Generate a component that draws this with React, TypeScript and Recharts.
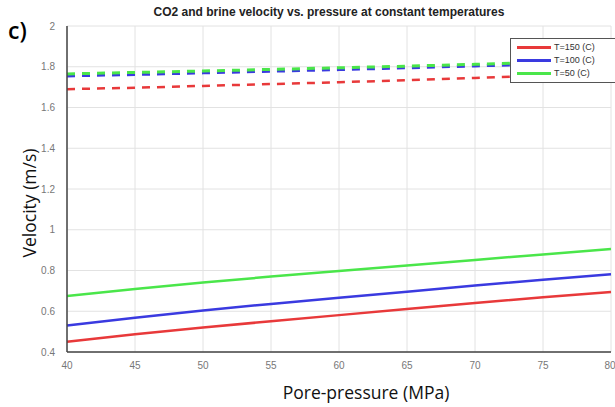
import React from 'react';
import { LineChart, Line, XAxis, YAxis, CartesianGrid } from 'recharts';

const pressure = [40, 45, 50, 55, 60, 65, 70, 75, 80];

// brine (solid)
const brine150 = [0.45, 0.487, 0.52, 0.551, 0.581, 0.611, 0.64, 0.669, 0.695];
const brine100 = [0.53, 0.568, 0.604, 0.636, 0.666, 0.696, 0.726, 0.755, 0.782];
const brine50 = [0.675, 0.709, 0.741, 0.77, 0.797, 0.825, 0.852, 0.879, 0.905];

// CO2 (dashed)
const co2_150 = [1.69, 1.697, 1.706, 1.715, 1.724, 1.734, 1.745, 1.757, 1.77];
const co2_100 = [1.755, 1.762, 1.77, 1.778, 1.786, 1.795, 1.804, 1.813, 1.823];
const co2_50 = [1.765, 1.772, 1.779, 1.787, 1.795, 1.803, 1.812, 1.821, 1.831];

const xTicks = [40, 45, 50, 55, 60, 65, 70, 75, 80];
const yTicks = [0.4, 0.6, 0.8, 1, 1.2, 1.4, 1.6, 1.8, 2];

const RED = '#e8393a';
const BLUE = '#3a3ae0';
const GREEN = '#4ae64a';

const legendItems = [
  { label: 'T=150 (C)', color: RED },
  { label: 'T=100 (C)', color: BLUE },
  { label: 'T=50 (C)', color: GREEN },
];

const rows = pressure.map((p, i) => ({
  p,
  b150: brine150[i],
  b100: brine100[i],
  b50: brine50[i],
  c150: co2_150[i],
  c100: co2_100[i],
  c50: co2_50[i],
}));

const tickStyle = { fill: '#777', fontSize: 10, fontFamily: 'Liberation Sans, Arial, sans-serif' };

export default function App() {
  return (
    <div style={{ position: 'fixed', left: 0, top: 0, width: 615, height: 407, background: '#fff' }}>
      <LineChart
        width={615}
        height={407}
        data={rows}
        margin={{ top: 26, right: 4, bottom: 35, left: 37 }}
        style={{ position: 'absolute', left: 0, top: 0 }}
      >
        <CartesianGrid stroke="#e2e2e2" strokeWidth={1} />
        <XAxis
          dataKey="p"
          type="number"
          domain={[40, 80]}
          ticks={xTicks}
          tick={tickStyle}
          tickLine={false}
          axisLine={{ stroke: '#444', strokeWidth: 1.5 }}
          height={20}
          tickMargin={4}
        />
        <XAxis xAxisId="top" orientation="top" dataKey="p" type="number" domain={[40, 80]} tick={false} tickLine={false} height={0} axisLine={{ stroke: '#666' }} />
        <YAxis
          type="number"
          domain={[0.4, 2]}
          ticks={yTicks}
          tick={tickStyle}
          tickLine={false}
          axisLine={{ stroke: '#444', strokeWidth: 1.5 }}
          width={30}
          tickMargin={6}
        />
        <Line dataKey="c150" stroke={RED} strokeWidth={2.5} strokeDasharray="8 7" dot={false} isAnimationActive={false} />
        <Line dataKey="c100" stroke={BLUE} strokeWidth={3} strokeDasharray="8 7" dot={false} isAnimationActive={false} />
        <Line dataKey="c50" stroke={GREEN} strokeWidth={3} strokeDasharray="8 7" dot={false} isAnimationActive={false} />
        <Line dataKey="b150" stroke={RED} strokeWidth={2.5} dot={false} isAnimationActive={false} />
        <Line dataKey="b100" stroke={BLUE} strokeWidth={2.5} dot={false} isAnimationActive={false} />
        <Line dataKey="b50" stroke={GREEN} strokeWidth={2.5} dot={false} isAnimationActive={false} />
      </LineChart>
      <div
        style={{
          position: 'absolute',
          left: 8,
          top: 14,
          fontSize: 23,
          fontFamily: 'Open Sans, sans-serif',
          fontWeight: 600,
          color: '#000',
        }}
      >
        c)
      </div>
      <div
        style={{
          position: 'absolute',
          left: 79,
          width: 500,
          top: 5,
          textAlign: 'center',
          fontSize: 12,
          fontWeight: 'bold',
          fontFamily: 'Liberation Sans, Arial, sans-serif',
          color: '#222',
        }}
      >
        CO2 and brine velocity vs. pressure at constant temperatures
      </div>
      <div
        style={{
          position: 'absolute',
          left: 246,
          width: 240,
          top: 380,
          textAlign: 'center',
          fontSize: 17.5,
          fontFamily: 'Open Sans, sans-serif',
          color: '#111',
        }}
      >
        Pore-pressure (MPa)
      </div>
      <div
        style={{
          position: 'absolute',
          left: 29,
          top: 203,
          transform: 'translate(-50%, -50%) rotate(-90deg)',
          whiteSpace: 'nowrap',
          fontSize: 17.5,
          fontFamily: 'Open Sans, sans-serif',
          color: '#111',
        }}
      >
        Velocity (m/s)
      </div>
      <div
        style={{
          position: 'absolute',
          left: 510,
          top: 38,
          width: 98,
          border: '1px solid #555',
          background: '#fff',
          padding: '2px 0 2px 6px',
          fontFamily: 'Liberation Sans, Arial, sans-serif',
          fontSize: 9,
          color: '#333',
          lineHeight: '13px',
        }}
      >
        {legendItems.map((it) => (
          <div key={it.label} style={{ display: 'flex', alignItems: 'center' }}>
            <span style={{ display: 'inline-block', width: 34, height: 3, background: it.color, marginRight: 3 }} />
            {it.label}
          </div>
        ))}
      </div>
    </div>
  );
}
